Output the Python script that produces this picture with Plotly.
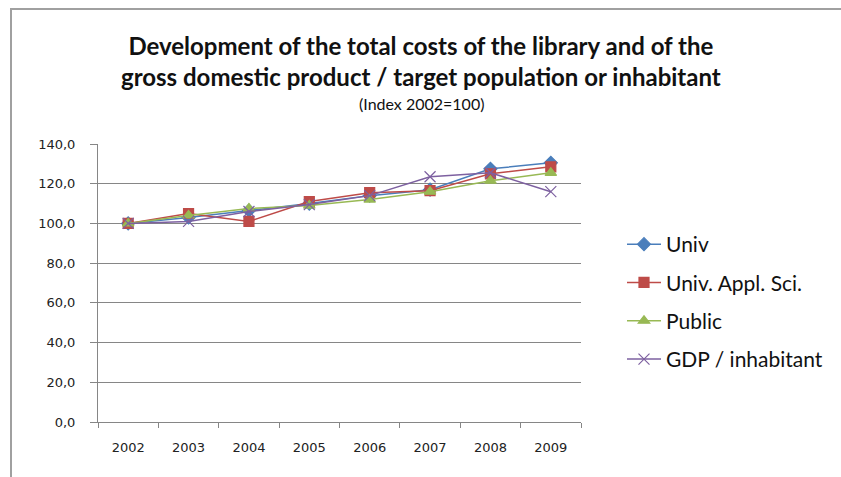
import plotly.graph_objects as go

# Index values (2002 = 100)
years = ["2002", "2003", "2004", "2005", "2006", "2007", "2008", "2009"]
univ = [100.0, 103.0, 106.5, 110.0, 114.0, 117.0, 127.5, 130.5]
univ_appl_sci = [100.0, 105.0, 101.0, 111.0, 115.5, 116.5, 125.0, 128.5]
public = [100.0, 104.0, 107.5, 109.0, 112.0, 116.0, 121.5, 125.5]
gdp_per_inhabitant = [100.0, 101.0, 106.0, 109.5, 114.0, 123.5, 125.5, 116.0]

series_names = ["Univ", "Univ. Appl. Sci.", "Public", "GDP / inhabitant"]
y_ticks = [0, 20, 40, 60, 80, 100, 120, 140]

styles = [
    dict(color="#4a7ebb", symbol="diamond", size=10),
    dict(color="#be4b48", symbol="square", size=10),
    dict(color="#98b954", symbol="triangle-up", size=10),
    dict(color="#7d60a0", symbol="x-thin-open", size=11),
]

fig = go.Figure()
for i, (name, vals, st) in enumerate(zip(series_names,
                                          [univ, univ_appl_sci, public, gdp_per_inhabitant],
                                          styles)):
    fig.add_trace(go.Scatter(
        x=years, y=vals, name=name, mode="lines+markers",
        legendgroup=f"g{i}",
        line=dict(color=st["color"], width=1.5),
        marker=dict(symbol=st["symbol"], size=st["size"], color=st["color"],
                    line=dict(color=st["color"], width=1.2)),
    ))

tick_font = dict(family="DejaVu Sans", size=13, color="#222222")

L, R, T, B = 98, 260, 144, 55
W, H = 841, 477
px_w, px_h = W - L - R, H - T - B


def to_px_x(x):
    return (x - L) / px_w


def to_px_y(y):
    return (H - B - y) / px_h


fig.update_layout(
    width=W, height=H,
    margin=dict(l=L, r=R, t=T, b=B),
    paper_bgcolor="white", plot_bgcolor="white",
    separators=",.",
    showlegend=True,
    legend=dict(
        x=to_px_x(622), xanchor="left", y=to_px_y(224), yanchor="top",
        font=dict(family="Lato", size=21, color="#111111"),
        tracegroupgap=8, itemwidth=34,
        bgcolor="rgba(0,0,0,0)",
    ),
    xaxis=dict(
        type="category", tickson="boundaries", ticks="outside", ticklen=5,
        tickcolor="#868686", showline=True, linecolor="#868686", linewidth=1,
        showgrid=False, tickfont=tick_font, range=[-0.5, 7.5],
        ticklabelstandoff=13,
    ),
    yaxis=dict(
        range=[0, 140], tickvals=y_ticks, tickformat=".1f",
        ticks="outside", ticklen=7, tickcolor="#868686",
        showline=True, linecolor="#868686", linewidth=1,
        showgrid=True, gridcolor="#868686", gridwidth=1,
        zeroline=False, tickfont=tick_font, ticklabelstandoff=12,
    ),
    annotations=[
        dict(text="<b>Development of the total costs of the library and of the<br>"
                  "gross domestic product / target population or inhabitant</b>",
             xref="paper", yref="paper", x=to_px_x(421), y=to_px_y(93),
             xanchor="center", yanchor="bottom", showarrow=False,
             font=dict(family="Lato", size=24, color="#111111")),
        dict(text="(Index 2002=100)", xref="paper", yref="paper",
             x=to_px_x(421), y=to_px_y(103), xanchor="center", yanchor="middle",
             showarrow=False, font=dict(family="Lato", size=16, color="#111111")),
    ],
)

# Outer frame: top and left edges
fig.add_shape(type="line", xref="paper", yref="paper",
              x0=to_px_x(10), x1=to_px_x(845), y0=to_px_y(9), y1=to_px_y(9),
              line=dict(color="#a0a0a0", width=2))
fig.add_shape(type="line", xref="paper", yref="paper",
              x0=to_px_x(11), x1=to_px_x(11), y0=to_px_y(9), y1=to_px_y(480),
              line=dict(color="#a0a0a0", width=2))

fig.write_html("out.html")
